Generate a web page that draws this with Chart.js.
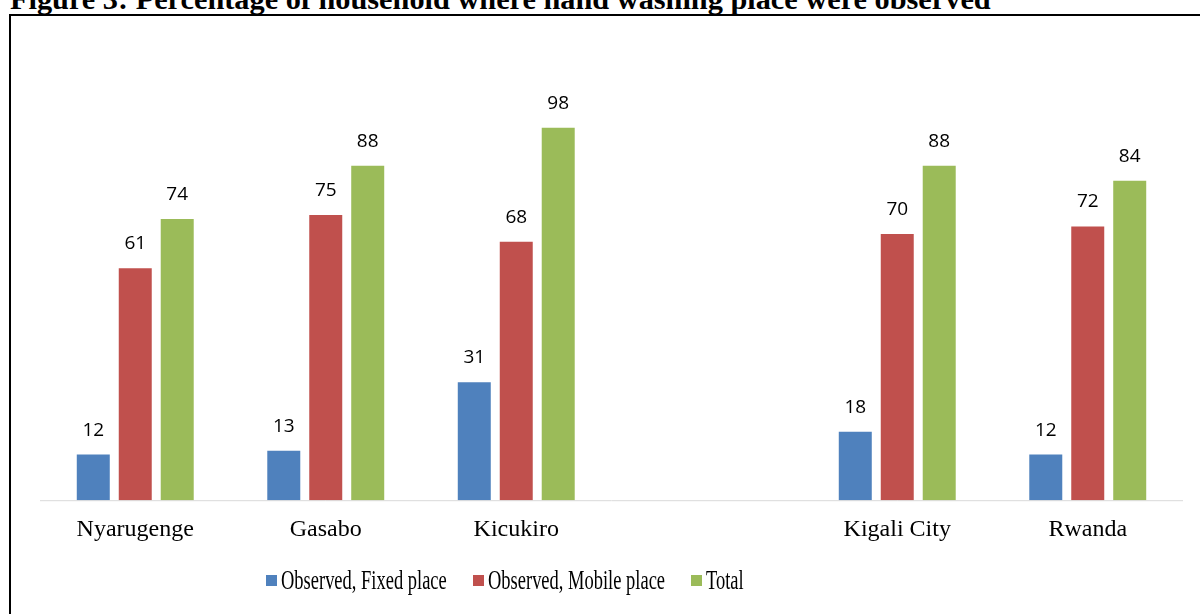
<!DOCTYPE html>
<html>
<head>
<meta charset="utf-8">
<script src="https://cdn.jsdelivr.net/npm/chart.js@4/dist/chart.umd.min.js"></script>
<style>
    html, body { margin: 0; padding: 0; background: #fff; width: 1200px; height: 614px; overflow: hidden; }
    #title {
        position: absolute; left: 10px; top: -18px;
        font-family: 'Liberation Serif', 'Times New Roman', serif;
        font-weight: bold; font-size: 30.3px; color: #000; white-space: nowrap;
    }
    #frame {
        position: absolute; left: 9px; top: 14px; width: 1200px; height: 620px;
        border-left: 2px solid #000; border-top: 2px solid #000;
    }
    #wrap { position: absolute; left: 0; top: 0; width: 1200px; height: 614px; }
    #legend {
        position: absolute; left: 266px; top: 563px; height: 34px;
        display: flex; align-items: center; white-space: nowrap;
        font-family: 'Liberation Serif', 'Times New Roman', serif; font-size: 28px; color: #000;
    }
    .item { display: flex; align-items: center; margin-right: 26px; }
    .box { width: 11px; height: 11px; margin-right: 4px; }
    .txtWrap { display: inline-block; overflow: visible; }
    .txt { display: inline-block; transform-origin: left center; }
</style>
</head>
<body>
<div id="title">Figure 3: Percentage of household where hand washing place were observed</div>
<div id="frame"></div>
<div id="wrap"><canvas id="handwashChart"></canvas></div>
<div id="legend"></div>
<script>
// Data (empty slot between districts and city)
const categories = ['Nyarugenge', 'Gasabo', 'Kicukiro', '', 'Kigali City', 'Rwanda'];
const fixedPlace = [12, 13, 31, null, 18, 12];
const mobilePlace = [61, 75, 68, null, 70, 72];
const totalObserved = [74, 88, 98, null, 88, 84];
const seriesNames = ['Observed, Fixed place', 'Observed, Mobile place', 'Total'];

const colors = {
    blue: '#4f81bd',
    red: '#c0504d',
    green: '#9bbb59'
};

// Category axis line, only across the plot area
const axisLine = {
    id: 'axisLine',
    beforeDatasetsDraw(chart) {
        const { ctx, chartArea } = chart;
        const y = chart.scales.y.getPixelForValue(0) + 0.5;
        ctx.save();
        ctx.strokeStyle = '#d9d9d9';
        ctx.lineWidth = 1;
        ctx.beginPath();
        ctx.moveTo(chartArea.left, y);
        ctx.lineTo(chartArea.right, y);
        ctx.stroke();
        ctx.restore();
    }
};

// Draw value labels above each bar
const barLabels = {
    id: 'barLabels',
    afterDatasetsDraw(chart) {
        const ctx = chart.ctx;
        ctx.save();
        ctx.font = '19px "Open Sans", sans-serif';
        ctx.fillStyle = '#000';
        ctx.textAlign = 'center';
        ctx.textBaseline = 'alphabetic';
        chart.data.datasets.forEach((ds, i) => {
            chart.getDatasetMeta(i).data.forEach((bar, j) => {
                if (ds.data[j] == null) return;
                ctx.fillText(ds.data[j], bar.x, bar.y - 19);
            });
        });
        ctx.restore();
    }
};

const ctx = document.getElementById('handwashChart');
const chart = new Chart(ctx, {
    type: 'bar',
    data: {
        labels: categories,
        datasets: [
            { label: seriesNames[0], data: fixedPlace, backgroundColor: colors.blue },
            { label: seriesNames[1], data: mobilePlace, backgroundColor: colors.red },
            { label: seriesNames[2], data: totalObserved, backgroundColor: colors.green }
        ]
    },
    options: {
        responsive: true,
        maintainAspectRatio: false,
        animation: false,
        categoryPercentage: 0.661,
        barPercentage: 0.786,
        layout: { padding: { left: 40, right: 17, top: 44, bottom: 55 } },
        plugins: {
            legend: { display: false },
            tooltip: { enabled: false }
        },
        scales: {
            y: {
                display: false,
                min: 0,
                max: 120
            },
            x: {
                grid: { display: false, drawTicks: false },
                border: { display: false },
                ticks: {
                    font: { family: 'Liberation Serif', size: 24 },
                    color: '#000',
                    padding: 15
                }
            }
        }
    },
    plugins: [axisLine, barLabels]
});

// Legend (text in the original is set condensed)
const legendEl = document.getElementById('legend');
const squeeze = 0.66;
chart.data.datasets.forEach(ds => {
    const item = document.createElement('div');
    item.className = 'item';
    const box = document.createElement('span');
    box.className = 'box';
    box.style.background = ds.backgroundColor;
    const wrap = document.createElement('span');
    wrap.className = 'txtWrap';
    const txt = document.createElement('span');
    txt.className = 'txt';
    txt.textContent = ds.label;
    wrap.appendChild(txt);
    item.appendChild(box);
    item.appendChild(wrap);
    legendEl.appendChild(item);
    const w = txt.offsetWidth;
    txt.style.transform = 'scaleX(' + squeeze + ')';
    wrap.style.width = (w * squeeze) + 'px';
});
</script>
</body>
</html>
